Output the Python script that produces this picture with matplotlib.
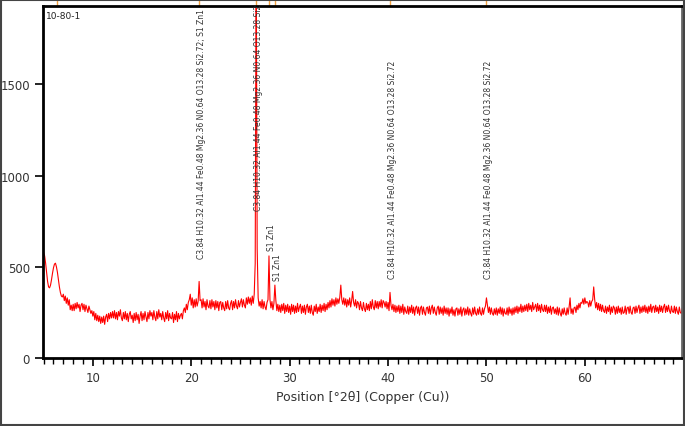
import numpy as np
import matplotlib
matplotlib.use("Agg")
import matplotlib.pyplot as plt
from matplotlib.patches import Rectangle
from matplotlib.ticker import MultipleLocator

# counts, one row per degree (x.0 .. x.9)
counts = [
    578, 560, 520, 470, 420, 390, 385, 400, 430, 465,   # 5
    495, 515, 520, 500, 470, 430, 390, 360, 340, 335,   # 6
    350, 315, 340, 300, 330, 290, 320, 265, 290, 260,   # 7
    295, 260, 300, 270, 305, 275, 295, 255, 290, 300,   # 8
    265, 295, 255, 290, 270, 250, 285, 265, 245, 260,   # 9
    230, 255, 210, 245, 205, 235, 200, 230, 190, 225,   # 10
    195, 230, 185, 225, 240, 200, 245, 215, 250, 220,   # 11
    255, 220, 260, 215, 250, 210, 255, 230, 265, 220,   # 12
    205, 250, 215, 255, 210, 245, 200, 240, 255, 215,   # 13
    235, 195, 245, 205, 250, 210, 240, 190, 230, 255,   # 14
    205, 245, 210, 255, 225, 200, 250, 215, 260, 230,   # 15
    250, 210, 260, 225, 205, 255, 215, 265, 225, 245,   # 16
    210, 255, 220, 200, 250, 215, 260, 205, 245, 220,   # 17
    215, 250, 195, 240, 210, 255, 200, 245, 215, 235,   # 18
    245, 215, 260, 275, 250, 295, 265, 305, 320, 350,   # 19
    290, 330, 275, 320, 280, 325, 285, 310, 420, 315,   # 20
    320, 275, 325, 280, 310, 265, 320, 285, 275, 315,   # 21
    270, 320, 280, 310, 265, 315, 275, 310, 260, 305,   # 22
    310, 265, 305, 275, 260, 310, 270, 315, 275, 265,   # 23
    300, 315, 265, 310, 275, 320, 285, 270, 315, 280,   # 24
    305, 325, 280, 320, 290, 275, 330, 295, 335, 300,   # 25
    330, 290, 340, 300, 350, 520, 2300, 600, 330, 285,  # 26
    310, 275, 320, 270, 310, 280, 265, 305, 320, 560,   # 27
    320, 275, 310, 265, 300, 400, 315, 260, 295, 255,   # 28
    290, 250, 295, 260, 300, 245, 290, 255, 295, 250,   # 29
    285, 240, 295, 255, 290, 245, 285, 250, 300, 255,   # 30
    280, 295, 245, 285, 250, 290, 240, 280, 295, 250,   # 31
    285, 245, 290, 250, 235, 285, 255, 295, 245, 280,   # 32
    255, 295, 250, 290, 260, 300, 255, 295, 265, 305,   # 33
    275, 315, 280, 325, 290, 320, 285, 330, 295, 325,   # 34
    300, 335, 400, 320, 295, 330, 290, 325, 280, 320,   # 35
    290, 330, 280, 315, 365, 305, 285, 320, 275, 310,   # 36
    300, 265, 310, 275, 260, 305, 270, 255, 300, 265,   # 37
    295, 260, 310, 270, 320, 280, 265, 315, 275, 310,   # 38
    270, 310, 280, 320, 275, 315, 305, 280, 310, 270,   # 39
    305, 260, 360, 290, 265, 295, 255, 290, 250, 285,   # 40
    255, 290, 245, 285, 250, 295, 240, 280, 255, 245,   # 41
    285, 240, 280, 250, 290, 245, 280, 235, 275, 285,   # 42
    245, 280, 235, 275, 285, 240, 280, 250, 235, 275,   # 43
    280, 245, 285, 240, 275, 290, 245, 280, 250, 235,   # 44
    275, 285, 240, 280, 245, 275, 235, 285, 245, 275,   # 45
    240, 275, 230, 270, 245, 280, 235, 265, 230, 270,   # 46
    275, 235, 270, 240, 280, 230, 265, 275, 235, 270,   # 47
    240, 280, 235, 270, 245, 230, 275, 240, 280, 245,   # 48
    235, 270, 240, 280, 245, 235, 275, 240, 270, 285,   # 49
    330, 290, 250, 280, 240, 275, 245, 235, 270, 240,   # 50
    275, 235, 270, 245, 280, 240, 275, 230, 270, 245,   # 51
    240, 275, 235, 280, 245, 270, 235, 275, 240, 280,   # 52
    250, 285, 245, 280, 255, 295, 250, 285, 255, 290,   # 53
    260, 295, 255, 300, 265, 290, 255, 305, 265, 280,   # 54
    295, 255, 300, 260, 290, 250, 295, 265, 255, 290,   # 55
    255, 290, 245, 280, 250, 285, 240, 275, 280, 245,   # 56
    270, 240, 280, 235, 275, 245, 230, 270, 240, 275,   # 57
    245, 235, 275, 240, 280, 330, 245, 270, 240, 275,   # 58
    280, 250, 290, 265, 300, 275, 305, 300, 325, 295,   # 59
    330, 300, 310, 305, 280, 315, 285, 310, 320, 390,   # 60
    320, 275, 305, 265, 300, 260, 295, 255, 290, 260,   # 61
    250, 285, 245, 280, 255, 290, 240, 280, 250, 285,   # 62
    275, 240, 280, 245, 285, 250, 275, 240, 280, 245,   # 63
    250, 285, 240, 275, 280, 245, 285, 250, 240, 275,   # 64
    280, 245, 285, 250, 275, 290, 245, 280, 250, 285,   # 65
    255, 290, 250, 280, 245, 285, 255, 295, 250, 280,   # 66
    285, 250, 290, 255, 280, 245, 290, 255, 285, 250,   # 67
    280, 295, 250, 285, 255, 290, 260, 245, 285, 255,   # 68
    250, 285, 245, 280, 255, 240, 280, 250, 245, 275,   # 69
]
two_theta = 5.0 + 0.1 * np.arange(len(counts))

# reference peak positions (orange ticks) and their labels
ref_pos = [6.35, 20.8, 26.55, 27.9, 28.5, 40.2, 50.0]
phase = "C3.84 H10.32 Al1.44 Fe0.48 Mg2.36 N0.64 O13.28 Si2.72"
ref_labels = ["", phase + "; S1 Zn1", phase, "S1 Zn1", "S1 Zn1", phase, phase]
label_base = [0, 550, 814, 594, 430, 440, 440]

fig = plt.figure(figsize=(6.85, 4.27), dpi=100)
ax = fig.add_axes([0.063, 0.159, 0.933, 0.825])

ax.plot(two_theta, counts, color="red", lw=0.8)

ax.set_xlim(4.95, 69.9)
ax.set_ylim(0, 1930)
ax.xaxis.set_major_locator(MultipleLocator(10))
ax.xaxis.set_minor_locator(MultipleLocator(1))
ax.yaxis.set_major_locator(MultipleLocator(500))
ax.tick_params(axis="both", which="major", length=6, width=1.2,
               labelsize=8.5, labelcolor="#333333")
ax.tick_params(axis="x", which="minor", length=4, width=1)
ax.set_xlabel("Position [°2θ] (Copper (Cu))", fontsize=9, color="#333333")

for side in ["left", "bottom", "top"]:
    ax.spines[side].set_linewidth(2)
    ax.spines[side].set_color("black")
ax.spines["right"].set_linewidth(2)
ax.spines["right"].set_color("#666666")

# reference ticks above the plot area
for pos in ref_pos:
    ax.plot([pos, pos], [1.0, 1.02], color="#f0a040", lw=1,
            transform=ax.get_xaxis_transform(), clip_on=False)

for pos, txt, base in zip(ref_pos, ref_labels, label_base):
    if txt:
        ax.text(pos + 0.25, base, txt, rotation=90, ha="center", va="bottom",
                fontsize=5.5, color="#333333", clip_on=True)

ax.text(0.004, 0.985, "10-80-1", transform=ax.transAxes, ha="left", va="top",
        fontsize=6.5, color="#222222")

fig.patches.append(Rectangle((0.002, 0.003), 0.996, 0.994, transform=fig.transFigure,
                             fill=False, edgecolor="#444444", lw=1.5))

fig.savefig("out.png", dpi=100)
